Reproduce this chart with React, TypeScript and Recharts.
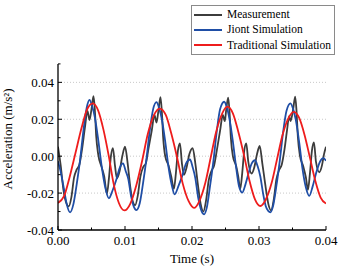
import React from 'react';
import { LineChart, Line, XAxis, YAxis, CartesianGrid, Legend } from 'recharts';

// Measurement (black)
const measTime = [
  0.0000, 0.0004, 0.0008, 0.0012, 0.0016, 0.0020, 0.0024, 0.0028, 0.0032, 0.0036,
  0.0040, 0.0044, 0.0047, 0.0050, 0.0053, 0.0055, 0.0057, 0.0060, 0.0065, 0.0069,
  0.0073, 0.0076, 0.0079, 0.0082, 0.0085, 0.0088, 0.0092, 0.0096, 0.0100,
  0.0104, 0.0108, 0.0112, 0.0115, 0.0119, 0.0123, 0.0127, 0.0131, 0.0135, 0.0140,
  0.0144, 0.0147, 0.0150, 0.0153, 0.0155, 0.0157, 0.0160, 0.0165, 0.0169, 0.0173,
  0.0176, 0.0179, 0.0182, 0.0185, 0.0188, 0.0192, 0.0196, 0.0201,
  0.0205, 0.0209, 0.0213, 0.0217, 0.0221, 0.0225, 0.0229, 0.0233, 0.0237, 0.0242,
  0.0246, 0.0249, 0.0251, 0.0254, 0.0256, 0.0258, 0.0261, 0.0266, 0.0269, 0.0272,
  0.0275, 0.0278, 0.0281, 0.0284, 0.0289, 0.0293, 0.0297, 0.0301,
  0.0305, 0.0310, 0.0314, 0.0318, 0.0322, 0.0326, 0.0330, 0.0334, 0.0338, 0.0342,
  0.0345, 0.0347, 0.0351, 0.0354, 0.0356, 0.0358, 0.0361, 0.0366, 0.0370, 0.0373,
  0.0376, 0.0379, 0.0382, 0.0385, 0.0390, 0.0394, 0.0397, 0.0400,
];
const measValue = [
  0.0051, -0.0050, -0.0180, -0.0250, -0.0272, -0.0222, -0.0115, -0.0072, -0.0045, 0.0040,
  0.0150, 0.0245, 0.0196, 0.0255, 0.0325, 0.0250, 0.0110, 0.0010, -0.0058, -0.0110,
  -0.0204, -0.0120, 0.0000, 0.0044, -0.0050, -0.0120, -0.0080, 0.0000, 0.0051,
  -0.0040, -0.0170, -0.0250, -0.0266, -0.0215, -0.0110, -0.0060, -0.0040, 0.0040, 0.0140,
  0.0224, 0.0182, 0.0250, 0.0320, 0.0240, 0.0100, 0.0000, -0.0050, -0.0110, -0.0177,
  -0.0090, 0.0030, 0.0069, -0.0040, -0.0101, -0.0060, 0.0010, 0.0044,
  -0.0040, -0.0160, -0.0260, -0.0300, -0.0240, -0.0130, -0.0080, -0.0050, 0.0030, 0.0140,
  0.0224, 0.0190, 0.0250, 0.0317, 0.0240, 0.0100, 0.0000, -0.0055, -0.0110, -0.0177,
  -0.0090, 0.0030, 0.0069, -0.0030, -0.0094, -0.0060, 0.0010, 0.0055,
  -0.0040, -0.0170, -0.0260, -0.0294, -0.0235, -0.0125, -0.0075, -0.0045, 0.0035, 0.0145,
  0.0217, 0.0190, 0.0255, 0.0323, 0.0245, 0.0105, 0.0005, -0.0055, -0.0115, -0.0183,
  -0.0095, 0.0030, 0.0075, -0.0030, -0.0087, -0.0050, 0.0010, 0.0051,
];

// Joint Simulation (blue)
const jointTime = [
  0.0000, 0.0004, 0.0009, 0.0013, 0.0018, 0.0023, 0.0028, 0.0033, 0.0038, 0.0043,
  0.0047, 0.0051, 0.0055, 0.0060, 0.0065, 0.0070, 0.0076, 0.0081, 0.0087, 0.0092,
  0.0097, 0.0101, 0.0105, 0.0109, 0.0113,
  0.0117, 0.0122, 0.0127, 0.0132, 0.0137, 0.0142, 0.0147, 0.0151, 0.0155, 0.0160,
  0.0165, 0.0170, 0.0174, 0.0180, 0.0186, 0.0191, 0.0197, 0.0201, 0.0205, 0.0209,
  0.0213, 0.0218,
  0.0222, 0.0227, 0.0232, 0.0237, 0.0242, 0.0248, 0.0252, 0.0256, 0.0261, 0.0266,
  0.0270, 0.0275, 0.0280, 0.0285, 0.0289, 0.0294, 0.0298, 0.0302, 0.0306, 0.0310,
  0.0314, 0.0317,
  0.0321, 0.0326, 0.0331, 0.0336, 0.0341, 0.0347, 0.0351, 0.0355, 0.0360, 0.0365,
  0.0370, 0.0375, 0.0380, 0.0385, 0.0391, 0.0396, 0.0400,
];
const jointValue = [
  -0.0028, -0.0085, -0.0180, -0.0260, -0.0304, -0.0260, -0.0150, -0.0020, 0.0140, 0.0265,
  0.0305, 0.0270, 0.0210, 0.0090, -0.0050, -0.0160, -0.0228, -0.0190, -0.0128, -0.0065,
  -0.0039, -0.0080, -0.0125, -0.0215, -0.0272,
  -0.0292, -0.0255, -0.0145, -0.0015, 0.0140, 0.0255, 0.0293, 0.0260, 0.0200, 0.0080,
  -0.0060, -0.0160, -0.0207, -0.0160, -0.0100, -0.0040, -0.0018, -0.0060, -0.0120, -0.0220,
  -0.0285, -0.0315,
  -0.0280, -0.0160, -0.0025, 0.0135, 0.0255, 0.0295, 0.0265, 0.0200, 0.0080, -0.0065,
  -0.0160, -0.0197, -0.0150, -0.0085, -0.0040, -0.0022, -0.0055, -0.0110, -0.0200, -0.0270,
  -0.0298, -0.0304,
  -0.0270, -0.0160, -0.0025, 0.0130, 0.0245, 0.0286, 0.0255, 0.0195, 0.0075, -0.0070,
  -0.0170, -0.0215, -0.0165, -0.0095, -0.0030, -0.0011, -0.0025,
];

// Traditional Simulation (red)
const tradTime = [
  0.0000, 0.0009, 0.0017, 0.0026, 0.0035, 0.0043,
  0.0052, 0.0060, 0.0068, 0.0076, 0.0083, 0.0091,
  0.0099, 0.0108, 0.0117, 0.0126, 0.0134, 0.0143,
  0.0152, 0.0161, 0.0169, 0.0178, 0.0186, 0.0195,
  0.0203, 0.0211, 0.0220, 0.0228, 0.0236, 0.0245,
  0.0253, 0.0261, 0.0269, 0.0278, 0.0286, 0.0294,
  0.0302, 0.0310, 0.0319, 0.0327, 0.0335, 0.0344,
  0.0352, 0.0360, 0.0368, 0.0376, 0.0384, 0.0392, 0.0400,
];
const tradValue = [
  -0.0253, -0.0217, -0.0118, 0.0016, 0.0151, 0.0250,
  0.0286, 0.0247, 0.0141, -0.0004, -0.0149, -0.0255,
  -0.0294, -0.0257, -0.0156, -0.0018, 0.0120, 0.0221,
  0.0258, 0.0222, 0.0124, -0.0011, -0.0146, -0.0244,
  -0.0280, -0.0243, -0.0143, -0.0006, 0.0131, 0.0231,
  0.0268, 0.0232, 0.0134, -0.0001, -0.0136, -0.0234,
  -0.0270, -0.0236, -0.0143, -0.0015, 0.0113, 0.0206,
  0.0240, 0.0207, 0.0115, -0.0008, -0.0133, -0.0224, -0.0257,
];

const xTicks = [0, 0.005, 0.01, 0.015, 0.02, 0.025, 0.03, 0.035, 0.04];
const yTicks = [-0.04, -0.03, -0.02, -0.01, 0, 0.01, 0.02, 0.03, 0.04, 0.05];
const gridValues = [-0.02, 0, 0.02, 0.04];

const toPoints = (ts: number[], vs: number[]) => ts.map((t, i) => ({ t, v: vs[i] }));

const series = [
  { name: 'Measurement', color: '#3c3c3c', data: toPoints(measTime, measValue) },
  { name: 'Jiont Simulation', color: '#1f4ea6', data: toPoints(jointTime, jointValue) },
  { name: 'Traditional Simulation', color: '#ee1c1c', data: toPoints(tradTime, tradValue) },
];

const FONT = '"Times New Roman", "Liberation Serif", serif';

const XTick = (props: any) => {
  const { x, y, payload } = props;
  const major = Math.round(payload.value * 1000) % 10 === 0;
  return (
    <g>
      <line x1={x} x2={x} y1={y} y2={y - (major ? 4 : 2.5)} stroke="#000" strokeWidth={1} />
      {major && (
        <text x={x} y={y + 15} textAnchor="middle" fontSize={13} fontFamily={FONT} fill="#000">
          {payload.value.toFixed(2)}
        </text>
      )}
    </g>
  );
};

const YTick = (props: any) => {
  const { x, y, payload } = props;
  const major = Math.round(payload.value * 100) % 2 === 0;
  return (
    <g>
      <line x1={x} x2={x + (major ? 4 : 2.5)} y1={y} y2={y} stroke="#000" strokeWidth={1} />
      {major && (
        <text x={x - 4} y={y} dy="0.35em" textAnchor="end" fontSize={13} fontFamily={FONT} fill="#000">
          {payload.value.toFixed(2)}
        </text>
      )}
    </g>
  );
};

const LegendBox = () => (
  <div
    style={{
      border: '1px solid #8a8a8a',
      background: '#fff',
      padding: '1px 3px 1px 2px',
      fontFamily: FONT,
      fontSize: 11.5,
      lineHeight: '15.3px',
      color: '#000',
    }}
  >
    {series.map((s) => (
      <div key={s.name} style={{ display: 'flex', alignItems: 'center', whiteSpace: 'nowrap' }}>
        <span style={{ display: 'inline-block', width: 28, height: 2, background: s.color, marginRight: 5 }} />
        {s.name}
      </div>
    ))}
  </div>
);

export default function App() {
  return (
    <div style={{ position: 'absolute', left: 0, top: 0, width: 354, height: 269, background: '#fff' }}>
      <LineChart width={354} height={269} margin={{ top: 14, right: 28, left: 0, bottom: 0 }}>
        <CartesianGrid
          vertical={false}
          horizontalValues={gridValues}
          stroke="#c8c8c8"
          strokeDasharray="1 2"
        />
        <XAxis
          type="number"
          dataKey="t"
          domain={[0, 0.04]}
          ticks={xTicks}
          interval={0}
          height={39}
          tickSize={0}
          tickMargin={0}
          tick={<XTick />}
          axisLine={{ stroke: '#000', strokeWidth: 1.3 }}
          tickLine={false}
          allowDataOverflow
          label={{
            value: 'Time (s)',
            position: 'insideBottom',
            offset: 6,
            fontSize: 13,
            fontFamily: FONT,
            fill: '#000',
          }}
        />
        <YAxis
          type="number"
          domain={[-0.04, 0.05]}
          ticks={yTicks}
          interval={0}
          width={58}
          tickSize={0}
          tickMargin={0}
          tick={<YTick />}
          axisLine={{ stroke: '#000', strokeWidth: 1.3 }}
          tickLine={false}
          allowDataOverflow
          label={{
            value: 'Acceleration (m/s²)',
            angle: -90,
            position: 'insideLeft',
            offset: 7,
            dy: -8,
            fontSize: 13,
            fontFamily: FONT,
            fill: '#000',
            style: { textAnchor: 'middle' },
          }}
        />
        <Legend
          verticalAlign="top"
          align="right"
          content={<LegendBox />}
          wrapperStyle={{ position: 'absolute', top: 5, left: 191, width: 'auto' }}
        />
        {series.map((s) => (
          <Line
            key={s.name}
            data={s.data}
            dataKey="v"
            name={s.name}
            type="monotone"
            stroke={s.color}
            strokeWidth={1.8}
            dot={false}
            activeDot={false}
            isAnimationActive={false}
          />
        ))}
      </LineChart>
    </div>
  );
}
